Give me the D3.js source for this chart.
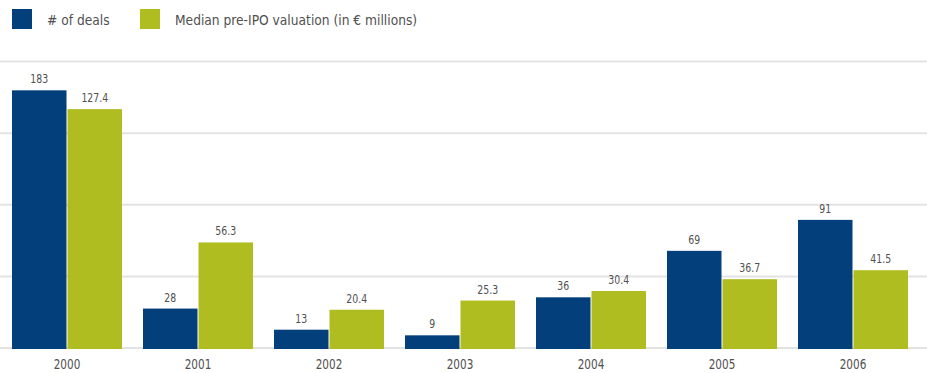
<!DOCTYPE html>
<html>
<head>
<meta charset="utf-8">
<script src="https://cdn.jsdelivr.net/npm/d3@7/dist/d3.min.js"></script>
<style>
  html, body { margin: 0; padding: 0; background: #fff; }
  svg { display: block; }
  text { font-family: "DejaVu Sans Condensed", "DejaVu Sans", sans-serif; font-stretch: condensed; fill: #505050; }
</style>
</head>
<body>
<svg id="chart" width="927" height="373"></svg>
<script>
// IPO activity by year
const years = ["2000", "2001", "2002", "2003", "2004", "2005", "2006"];
const deals = [183, 28, 13, 9, 36, 69, 91];
const valuations = [127.4, 56.3, 20.4, 25.3, 30.4, 36.7, 41.5];
const valuationLabels = ["127.4", "56.3", "20.4", "25.3", "30.4", "36.7", "41.5"];
const gridTicks = [0, 50, 100, 150, 200];
const seriesNames = ["# of deals", "Median pre-IPO valuation (in € millions)"];
const colors = ["#023f7b", "#b0bd21"];

const W = 927, H = 373;
const baseY = 348;
const numScale = 0.8; // narrow figures
const svg = d3.select("#chart");

const x = d3.scaleBand()
  .domain(years)
  .range([1.5, 918.5])
  .paddingInner(21 / 131)
  .paddingOuter(10.5 / 131);

const sub = d3.scaleBand()
  .domain([0, 1])
  .range([0, x.bandwidth()])
  .paddingInner(2 / 110);

const yDeals = d3.scaleLinear().domain([0, 200]).range([baseY, 66.4]);
const yVal = d3.scaleLinear().domain([0, 150]).range([baseY, 66.75]);
const yGrid = d3.scaleLinear().domain([0, 200]).range([baseY, 61.5]);

// horizontal gridlines
svg.append("g")
  .selectAll("line")
  .data(gridTicks)
  .join("line")
  .attr("x1", 0).attr("x2", W)
  .attr("y1", d => yGrid(d)).attr("y2", d => yGrid(d))
  .attr("stroke", "#e3e3e3")
  .attr("stroke-width", 2);

const groups = svg.append("g")
  .selectAll("g")
  .data(years)
  .join("g")
  .attr("transform", d => `translate(${x(d)},0)`);

// deals bars
groups.append("rect")
  .attr("x", sub(0))
  .attr("width", sub.bandwidth())
  .attr("y", (d, i) => yDeals(deals[i]))
  .attr("height", (d, i) => baseY + 1 - yDeals(deals[i]))
  .attr("fill", colors[0]);

// valuation bars
groups.append("rect")
  .attr("x", sub(1))
  .attr("width", sub.bandwidth())
  .attr("y", (d, i) => yVal(valuations[i]))
  .attr("height", (d, i) => baseY + 1 - yVal(valuations[i]))
  .attr("fill", colors[1]);

// value labels
groups.append("text")
  .attr("transform", (d, i) =>
    `translate(${sub(0) + sub.bandwidth() / 2},${yDeals(deals[i]) - 7}) scale(${numScale},1)`)
  .attr("text-anchor", "middle")
  .attr("font-size", 13)
  .text((d, i) => deals[i]);

groups.append("text")
  .attr("transform", (d, i) =>
    `translate(${sub(1) + sub.bandwidth() / 2},${yVal(valuations[i]) - 7}) scale(${numScale},1)`)
  .attr("text-anchor", "middle")
  .attr("font-size", 13)
  .text((d, i) => valuationLabels[i]);

// category axis labels
svg.append("g")
  .selectAll("text")
  .data(years)
  .join("text")
  .attr("transform", d => `translate(${x(d) + x.bandwidth() / 2},369) scale(${numScale},1)`)
  .attr("text-anchor", "middle")
  .attr("font-size", 14.5)
  .text(d => d);

// legend
const legendX = [12, 140];
const legend = svg.append("g")
  .selectAll("g")
  .data(seriesNames)
  .join("g")
  .attr("transform", (d, i) => `translate(${legendX[i]},9)`);
legend.append("rect")
  .attr("width", 20).attr("height", 20)
  .attr("fill", (d, i) => colors[i]);
legend.append("text")
  .attr("transform", "translate(35,16) scale(0.975,1)")
  .attr("font-size", 14)
  .text(d => d);
</script>
</body>
</html>
